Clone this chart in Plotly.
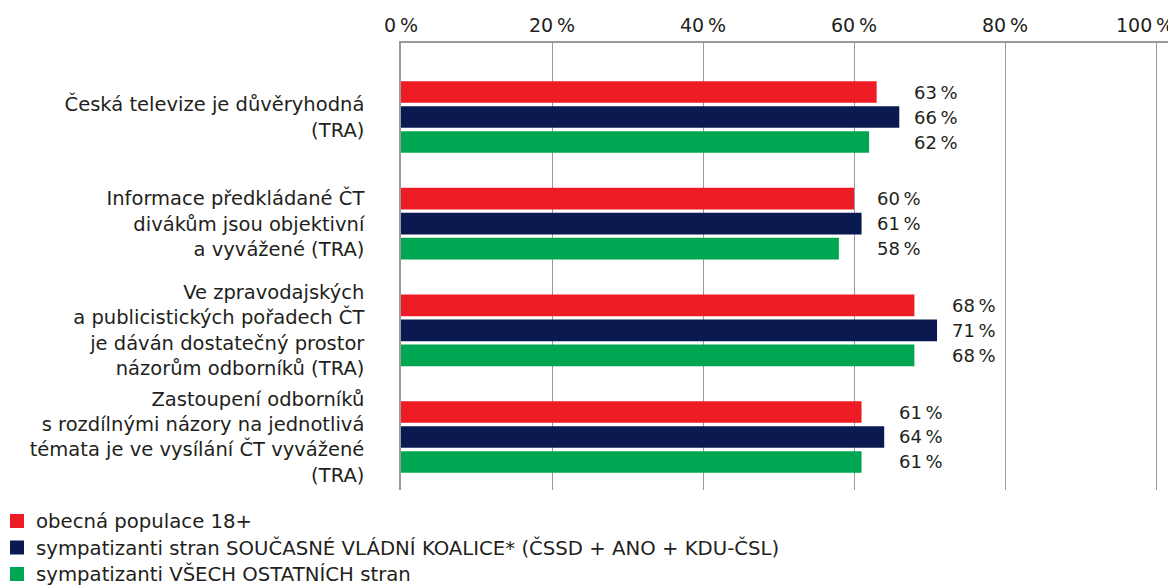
import plotly.graph_objects as go

categories = [
    "Česká televize je důvěryhodná<br>(TRA)",
    "Informace předkládané ČT<br>divákům jsou objektivní<br>a vyvážené (TRA)",
    "Ve zpravodajských<br>a publicistických pořadech ČT<br>je dáván dostatečný prostor<br>názorům odborníků (TRA)",
    "Zastoupení odborníků<br>s rozdílnými názory na jednotlivá<br>témata je ve vysílání ČT vyvážené<br>(TRA)",
]
series_names = [
    "obecná populace 18+",
    "sympatizanti stran SOUČASNÉ VLÁDNÍ KOALICE* (ČSSD + ANO + KDU-ČSL)",
    "sympatizanti VŠECH OSTATNÍCH stran",
]
obecna = [63, 60, 68, 61]
koalice = [66, 61, 71, 64]
ostatni = [62, 58, 68, 61]
series_values = [obecna, koalice, ostatni]
colors = ["#ED1C24", "#0B1951", "#00A651"]
tick_vals = [0, 20, 40, 60, 80, 100]
tick_labels = ["0 %", "20 %", "40 %", "60 %", "80 %", "100 %"]

FONT = "DejaVu Sans"
TXT = "#231F20"
GRID = "#9A9A9A"

OFF = 8  # page body margin
W, H = 1176 - OFF, 585 - OFF
ML, MR, MT, MB = 401 - OFF, 0, 43 - OFF, 95
PW, PH = W - ML - MR, H - MT - MB
XMAX = 100 * PW / 755.0


def px_x(abs_px):
    return (abs_px - OFF - ML) / PW


def px_y(abs_py):
    return (H - MB - (abs_py - OFF)) / PH


pos = list(range(len(categories)))
BARGAP = 0.297
BARGROUPGAP = 0.134
slot = (1 - BARGAP) / 3

fig = go.Figure()
for k, (name, vals, col) in enumerate(zip(series_names, series_values, colors)):
    fig.add_trace(go.Bar(
        y=pos, x=vals, name=name, orientation="h",
        marker=dict(color=col, line=dict(width=0)),
        hoverinfo="skip", showlegend=False,
    ))

annotations = []
shapes = []
for i in pos:
    gmax = max(s[i] for s in series_values)
    for k, s in enumerate(series_values):
        annotations.append(dict(
            x=gmax, y=i + (k - 1) * slot, xref="x", yref="y",
            text=f"{s[i]}\u2009%", showarrow=False,
            xanchor="left", yanchor="middle", xshift=13,
            font=dict(family=FONT, size=18, color=TXT),
        ))
for j, (v, t) in enumerate(zip(tick_vals, tick_labels)):
    last = j == len(tick_vals) - 1
    annotations.append(dict(
        x=v, y=1, xref="x", yref="paper",
        text=t.replace(" ", "\u2009"), showarrow=False,
        xanchor="center", yanchor="bottom", yshift=5,
        xshift=-11 if last else 0,
        font=dict(family=FONT, size=19, color=TXT),
    ))

# manual legend (bottom-left)
leg_y = [521, 547.5, 574]
for k, (name, col) in enumerate(zip(series_names, colors)):
    cy = leg_y[k]
    shapes.append(dict(
        type="rect", xref="paper", yref="paper",
        x0=px_x(10), x1=px_x(24), y0=px_y(cy + 7), y1=px_y(cy - 7),
        fillcolor=col, line=dict(width=0), layer="above",
    ))
    annotations.append(dict(
        x=px_x(34), y=px_y(cy), xref="paper", yref="paper",
        text=name, showarrow=False, xanchor="left", yanchor="middle",
        font=dict(family=FONT, size=19.7, color=TXT),
    ))

fig.update_layout(
    width=W, height=H,
    margin=dict(l=ML, r=MR, t=MT, b=MB, pad=0, autoexpand=False),
    paper_bgcolor="white", plot_bgcolor="white",
    barmode="group", bargap=BARGAP, bargroupgap=BARGROUPGAP,
    font=dict(family=FONT, size=18, color=TXT),
    showlegend=False,
    annotations=annotations,
    shapes=shapes,
)
fig.update_xaxes(
    range=[0, XMAX], side="top", automargin=False,
    tickvals=tick_vals, showticklabels=False,
    showgrid=True, gridcolor=GRID, gridwidth=1,
    zeroline=False,
    showline=True, linecolor=GRID, linewidth=1.5,
    fixedrange=True,
)
fig.update_yaxes(
    range=[3.497, -0.694], automargin=False,
    tickvals=pos, ticktext=categories,
    ticklabelstandoff=31,
    showgrid=False, zeroline=False,
    showline=True, linecolor=GRID, linewidth=1.5,
    ticks="",
    tickfont=dict(family=FONT, size=19.5, color=TXT),
    fixedrange=True,
)

fig.write_html("out.html", config={"displayModeBar": False})
